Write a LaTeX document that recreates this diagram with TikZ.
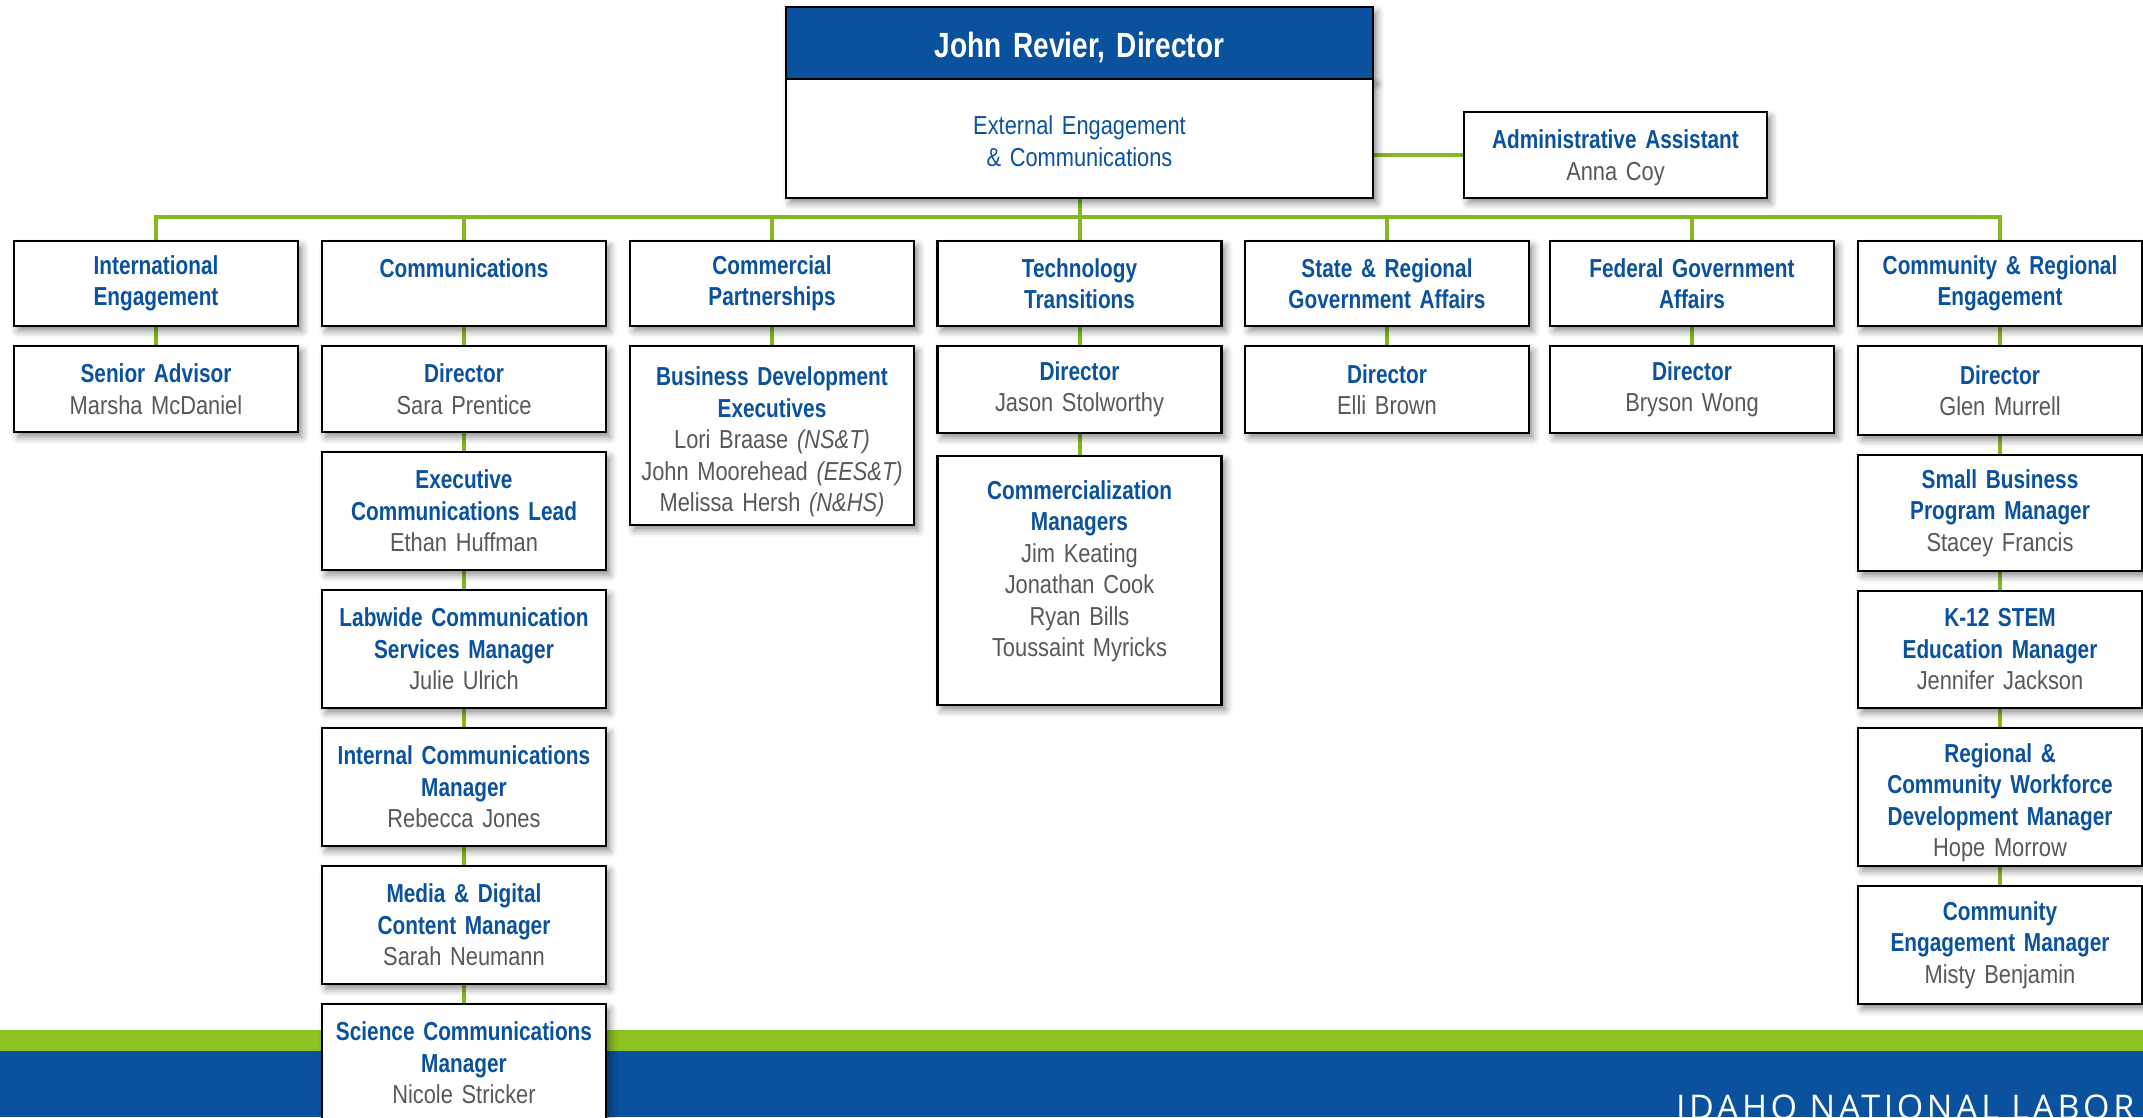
\documentclass[tikz,border=0pt]{standalone}
\usepackage{fontspec}
\setmainfont{Liberation Sans}[UprightFeatures={FakeStretch=0.84},BoldFeatures={FakeStretch=0.8},ItalicFeatures={FakeStretch=0.84}]
\newfontfamily\footfont{Open Sans}[LetterSpace=10.5]
\usepackage{tikz}
\usetikzlibrary{positioning,backgrounds,shadows.blur}
\definecolor{inlblue}{RGB}{10,81,158}
\definecolor{inlgreen}{RGB}{141,194,34}
\definecolor{linkgreen}{RGB}{132,184,30}
\definecolor{namegray}{RGB}{88,88,88}
\newcommand{\who}[1]{{\mdseries\color{namegray}#1}}
\newcommand{\boxfont}{\fontsize{26}{31.5}\selectfont\spaceskip 5.8pt plus 2pt minus 1pt\relax}
\newcommand{\headfont}{\fontsize{35}{42}\selectfont\bfseries\spaceskip 7.8pt plus 2pt minus 1pt\relax}
\tikzstyle{unitbox} = [draw=black, line width=2.5pt, fill=white, rectangle, outer sep=0pt,
    text width=270pt, inner xsep=7pt, inner ysep=0pt, align=center, text=inlblue,
    font=\boxfont\bfseries, minimum height=85pt,
    blur shadow={shadow xshift=4pt, shadow yshift=-5pt, shadow blur radius=7pt, shadow opacity=45}]
\tikzstyle{headbox} = [unitbox, fill=inlblue, text=white, text width=573pt, minimum height=72pt,
    text height=29pt, text depth=0pt, font=\headfont]
\tikzstyle{link} = [draw=linkgreen, line width=4pt]

\begin{document}
\begin{tikzpicture}[x=1pt, y=-1pt, node distance=20pt]
    \useasboundingbox (0,0) rectangle (2143,1117);
    \clip (0,0) rectangle (2143,1117);
    % footer bands
    \fill[inlgreen] (0,1030) rectangle (2143,1051);
    \fill[inlblue] (0,1051) rectangle (2143,1117);
    \node[white, anchor=base west, inner sep=0pt, font=\footfont\fontsize{34}{34}\selectfont] (inl) at (1676,1119) {IDAHO NATIONAL LABOR};

    % director
    \node[headbox, anchor=north] (dir) at (1079.5,7) {John Revier, Director};
    \node[unitbox, below=0pt of dir, text width=573pt, minimum height=119pt,
        font=\boxfont] (dirunit) {\rule{0pt}{24pt}External Engagement\\\& Communications};
    \node[unitbox, text width=289pt, minimum height=86pt, anchor=south west] (admin) at (1464,198)
        {\rule{0pt}{24pt}Administrative Assistant\\\who{Anna Coy}};

    % first level
    \node[unitbox, anchor=north] (intl) at (156,241) {International\\Engagement};
    \node[unitbox, anchor=north] (comms) at (464,241) {Communications\\\mbox{}};
    \node[unitbox, anchor=north] (commp) at (772,241) {Commercial\\Partnerships};
    \node[unitbox, anchor=north] (tech) at (1079.5,241) {Technology\\Transitions};
    \node[unitbox, anchor=north] (state) at (1387,241) {State \& Regional\\Government Affairs};
    \node[unitbox, anchor=north] (fed) at (1692,241) {Federal Government\\Affairs};
    \node[unitbox, anchor=north] (commr) at (2000,241) {Community \& Regional\\Engagement};

    % international
    \node[unitbox, below=of intl, minimum height=86pt] (intladv) {Senior Advisor\\\who{Marsha McDaniel}};
    % communications
    \node[unitbox, below=of comms, minimum height=86pt] (commsdir) {Director\\\who{Sara Prentice}};
    \node[unitbox, below=of commsdir, minimum height=118pt] (commsexec) {Executive\\Communications Lead\\\who{Ethan Huffman}};
    \node[unitbox, below=of commsexec, minimum height=118pt] (commslab) {Labwide Communication\\Services Manager\\\who{Julie Ulrich}};
    \node[unitbox, below=of commslab, minimum height=118pt] (commsint) {Internal Communications\\Manager\\\who{Rebecca Jones}};
    \node[unitbox, below=of commsint, minimum height=118pt] (commsmedia) {Media \& Digital\\Content Manager\\\who{Sarah Neumann}};
    \node[unitbox, below=of commsmedia, minimum height=118pt] (commssci) {Science Communications\\Manager\\\who{Nicole Stricker}};
    % commercial partnerships
    \node[unitbox, below=of commp, minimum height=179pt] (commpbd) {\rule{0pt}{32pt}Business Development\\Executives\\
        \who{Lori Braase \textit{(NS\&T)}}\\\who{John Moorehead \textit{(EES\&T)}}\\\who{Melissa Hersh \textit{(N\&HS)}}};
    % technology transitions
    \node[unitbox, below=of tech, minimum height=87pt] (techdir) {Director\\\who{Jason Stolworthy}};
    \node[unitbox, below=23pt of techdir, minimum height=249pt] (techmgr) {\rule{0pt}{26pt}Commercialization\\Managers\\
        \who{Jim Keating}\\\who{Jonathan Cook}\\\who{Ryan Bills}\\\who{Toussaint Myricks}\\\mbox{}};
    % government affairs
    \node[unitbox, below=of state, minimum height=87pt] (statedir) {Director\\\who{Elli Brown}};
    \node[unitbox, below=of fed, minimum height=87pt] (feddir) {Director\\\who{Bryson Wong}};
    % community & regional
    \node[unitbox, below=of commr, minimum height=89pt] (commrdir) {Director\\\who{Glen Murrell}};
    \node[unitbox, below=of commrdir, minimum height=116pt] (commrsb) {Small Business\\Program Manager\\\who{Stacey Francis}};
    \node[unitbox, below=of commrsb, minimum height=117pt] (commrk12) {K-12 STEM\\Education Manager\\\who{Jennifer Jackson}};
    \node[unitbox, below=of commrk12, minimum height=138pt] (commrwf) {\rule{0pt}{30pt}Regional \&\\Community Workforce\\Development Manager\\\who{Hope Morrow}};
    \node[unitbox, below=of commrwf, minimum height=118pt] (commreng) {Community\\Engagement Manager\\\who{Misty Benjamin}};

    % connectors
    \begin{scope}[on background layer]
        \coordinate (bus) at (1079.5,217);
        \draw[link] (dirunit.south) -- (bus);
        \draw[link] (admin.west) -- (admin.west -| dirunit.east);
        \draw[link] (intl.north) |- (bus) -| (commr.north);
        \foreach \unit in {comms,commp,tech,state,fed}
            \draw[link] (\unit.north) -- (\unit.north |- bus);
        \foreach \upper/\lower in {intl/intladv, comms/commsdir, commsdir/commsexec, commsexec/commslab,
                commslab/commsint, commsint/commsmedia, commsmedia/commssci, commp/commpbd,
                tech/techdir, techdir/techmgr, state/statedir, fed/feddir, commr/commrdir,
                commrdir/commrsb, commrsb/commrk12, commrk12/commrwf, commrwf/commreng}
            \draw[link] (\upper.south) -- (\lower.north);
    \end{scope}
\end{tikzpicture}
\end{document}
